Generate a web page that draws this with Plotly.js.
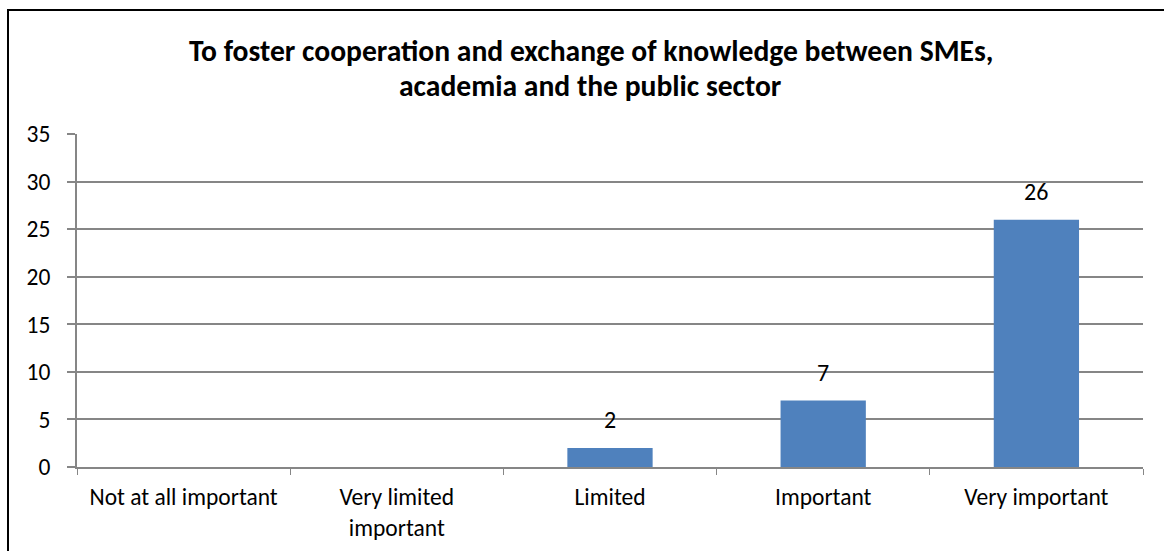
<!DOCTYPE html>
<html>
<head>
<meta charset="utf-8">
<script src="https://cdn.plot.ly/plotly-3.0.1.min.js"></script>
<style>
html,body{margin:0;padding:0;background:#fff;overflow:hidden;}
#chart{width:1164px;height:551px;}
#frame{position:absolute;left:7px;top:9px;width:1200px;height:600px;border:2px solid #000;pointer-events:none;box-sizing:border-box;}
</style>
</head>
<body>
<div id="chart"></div>
<div id="frame"></div>
<script>
const categories = ["Not at all important", "Very limited<br>important", "Limited", "Important", "Very important"];
const values = [0, 0, 2, 7, 26];
const labels = ["", "", "2", "7", "26"];
const titleLines = ["To foster cooperation and exchange of knowledge between SMEs,", "academia and the public sector"];

const fontFam = "Carlito, Calibri, Lato, sans-serif";

const annotations = [];
titleLines.forEach((t, i) => {
  annotations.push({
    text: "<b>" + t + "</b>", xref: "paper", yref: "paper",
    x: 0.482, y: [1.2492, 1.1441][i], xanchor: "center", yanchor: "middle",
    showarrow: false, font: {family: fontFam, size: 29.6, color: "#000"}
  });
});
categories.forEach((c, i) => {
  if (labels[i] !== "") {
    annotations.push({
      text: labels[i], x: c, y: values[i], xref: "x", yref: "y",
      xanchor: "center", yanchor: "middle", yshift: 28,
      showarrow: false, font: {family: fontFam, size: 24, color: "#000"}
    });
  }
});

Plotly.newPlot("chart", [{
  type: "bar",
  x: categories,
  y: values,
  marker: {color: "#4F81BD", line: {width: 0}},
  hoverinfo: "none"
}], {
  width: 1164, height: 551,
  margin: {l: 77, r: 21, t: 134, b: 84},
  paper_bgcolor: "rgba(0,0,0,0)",
  plot_bgcolor: "rgba(0,0,0,0)",
  bargap: 0.6,
  showlegend: false,
  annotations: annotations,
  xaxis: {
    tickson: "boundaries", ticks: "outside", ticklen: 6, tickcolor: "#868686", tickwidth: 1,
    showline: true, linecolor: "#868686", linewidth: 2,
    showgrid: false,
    tickfont: {family: fontFam, size: 23.5, color: "#000"},
    ticklabelstandoff: 8,
    fixedrange: true
  },
  yaxis: {
    range: [0, 35], dtick: 5, tick0: 0,
    ticks: "outside", ticklen: 8, tickcolor: "#868686", tickwidth: 2,
    showline: true, linecolor: "#868686", linewidth: 2,
    showgrid: true, gridcolor: "#868686", gridwidth: 2,
    zeroline: false,
    tickfont: {family: fontFam, size: 23.5, color: "#000"},
    ticklabelstandoff: 12,
    fixedrange: true
  }
}, {displayModeBar: false, staticPlot: true});
</script>
</body>
</html>
